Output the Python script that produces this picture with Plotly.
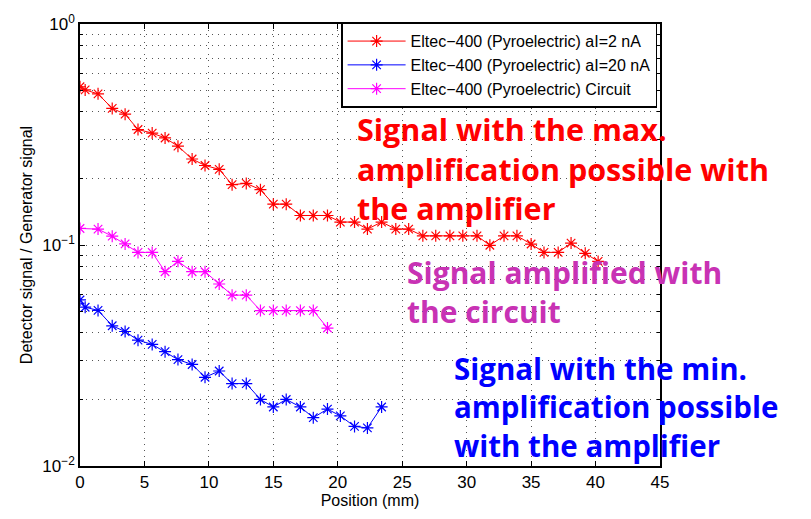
import plotly.graph_objects as go

# ---- data ----
red_x = [0, 0.4, 1.4, 2.5, 3.5, 4.5, 5.6, 6.6, 7.6, 8.7, 9.7, 10.8, 11.8, 12.9, 14.0,
         15.0, 16.0, 17.1, 18.1, 19.2, 20.2, 21.3, 22.3, 23.4, 24.5, 25.5, 26.6, 27.6,
         28.7, 29.7, 30.8, 31.8, 32.9, 33.9, 35.0, 36.0, 37.1, 38.1, 39.2, 40.2]
red_y = [0.52, 0.503, 0.483, 0.415, 0.391, 0.333, 0.321, 0.305, 0.280, 0.245, 0.229,
         0.220, 0.1875, 0.190, 0.178, 0.153, 0.153, 0.136, 0.136, 0.136, 0.127, 0.127,
         0.118, 0.127, 0.118, 0.118, 0.110, 0.110, 0.110, 0.110, 0.110, 0.0997, 0.110,
         0.110, 0.101, 0.0926, 0.0926, 0.102, 0.0917, 0.0843]

blue_x = [0, 0.4, 1.4, 2.5, 3.5, 4.5, 5.6, 6.6, 7.6, 8.7, 9.7, 10.8, 11.8, 12.9, 14.0,
          15.0, 16.0, 17.1, 18.1, 19.2, 20.2, 21.3, 22.3, 23.4]
blue_y = [0.0564, 0.0523, 0.0506, 0.0431, 0.0406, 0.0371, 0.0355, 0.0329, 0.0303,
          0.0288, 0.0252, 0.0269, 0.0236, 0.0236, 0.0200, 0.0185, 0.0200, 0.0185,
          0.01654, 0.0181, 0.01685, 0.0151, 0.01487, 0.0185]

mag_x = [0, 1.4, 2.5, 3.5, 4.5, 5.6, 6.6, 7.6, 8.7, 9.7, 10.8, 11.8, 12.9, 14.0,
         15.0, 16.0, 17.1, 18.1, 19.2]
mag_y = [0.1188, 0.118, 0.1096, 0.1011, 0.0926, 0.0926, 0.0757, 0.0844, 0.0757,
         0.0757, 0.0666, 0.0593, 0.0593, 0.0505, 0.0505, 0.0505, 0.0505, 0.0505, 0.0421]

series_names = ["Eltec\u2212400 (Pyroelectric) aI=2 nA",
                "Eltec\u2212400 (Pyroelectric) aI=20 nA",
                "Eltec\u2212400 (Pyroelectric) Circuit"]

x_ticks = [0, 5, 10, 15, 20, 25, 30, 35, 40, 45]
decades = [0.01, 0.1, 1]
decade_labels = ["10<sup>\u22122</sup>", "10<sup>\u22121</sup>", "10<sup>0</sup>"]
mantissas = [2, 3, 4, 5, 6, 7, 8, 9]

red_note = ["Signal with the max.", "amplification possible with", "the amplifier"]
mag_note = ["Signal amplified with", "the circuit"]
blue_note = ["Signal with the min.", "amplification possible", "with the amplifier"]

minor_vals = [round(d * m, 6) for d in decades[:-1] for m in mantissas]

FONT = "Liberation Sans, Arial, sans-serif"
NOTE_FONT = "Open Sans, DejaVu Sans, sans-serif"

fig = go.Figure()
for xs, ys, name, col in [(red_x, red_y, series_names[0], "#FF0000"),
                          (blue_x, blue_y, series_names[1], "#0000FF"),
                          (mag_x, mag_y, series_names[2], "#FF00FF")]:
    fig.add_trace(go.Scatter(
        x=xs, y=ys, name=name, mode="lines+markers",
        line=dict(color=col, width=1),
        marker=dict(symbol="asterisk-open", size=10, color=col,
                    line=dict(color=col, width=1.2)),
    ))

def note(lines, color, x0, yc, size):
    return dict(
        text="<b>" + "<br>".join(lines) + "</b>", xref="paper", yref="paper",
        x=x0, y=yc, xanchor="left", yanchor="middle", align="left",
        showarrow=False, font=dict(family=NOTE_FONT, size=size, color=color))

annotations = [
    note(red_note, "#FF0000", 0.474, 0.672, 30.5),
    note(mag_note, "#C832B4", 0.560, 0.394, 30),
    note(blue_note, "#0000FF", 0.642, 0.133, 29.5),
]

GRID = dict(showgrid=True, gridcolor="#555555", griddash="1px,5px", gridwidth=1)
axis_common = dict(showline=True, linecolor="black", linewidth=1.5, mirror="ticks",
                   ticks="inside", ticklen=5, tickcolor="black",
                   tickfont=dict(family=FONT, size=17, color="black"),
                   zeroline=False, **GRID)

fig.update_layout(
    width=811, height=519,
    margin=dict(l=80, r=151, t=18, b=44),
    paper_bgcolor="white", plot_bgcolor="white",
    font=dict(family=FONT, color="black"),
    showlegend=True,
    legend=dict(x=0.995, y=1.003, xanchor="right", yanchor="top",
                bgcolor="white", bordercolor="black", borderwidth=1.5,
                font=dict(family=FONT, size=16, color="black"),
                tracegroupgap=0, itemwidth=58),
    annotations=annotations,
    xaxis=dict(range=[0, 45], tickvals=x_ticks,
               title=dict(text="Position (mm)", font=dict(family=FONT, size=16),
                          standoff=4),
               **axis_common),
    yaxis=dict(type="log", range=[-2, 0], tickvals=decades, ticktext=decade_labels,
               minor=dict(tickvals=minor_vals, ticks="inside", ticklen=3,
                          tickcolor="black", showgrid=True, gridcolor="#555555",
                          griddash="1px,5px", gridwidth=1),
               title=dict(text="Detector signal / Generator signal",
                          font=dict(family=FONT, size=16), standoff=6),
               **axis_common),
)

fig.write_html("out.html")
